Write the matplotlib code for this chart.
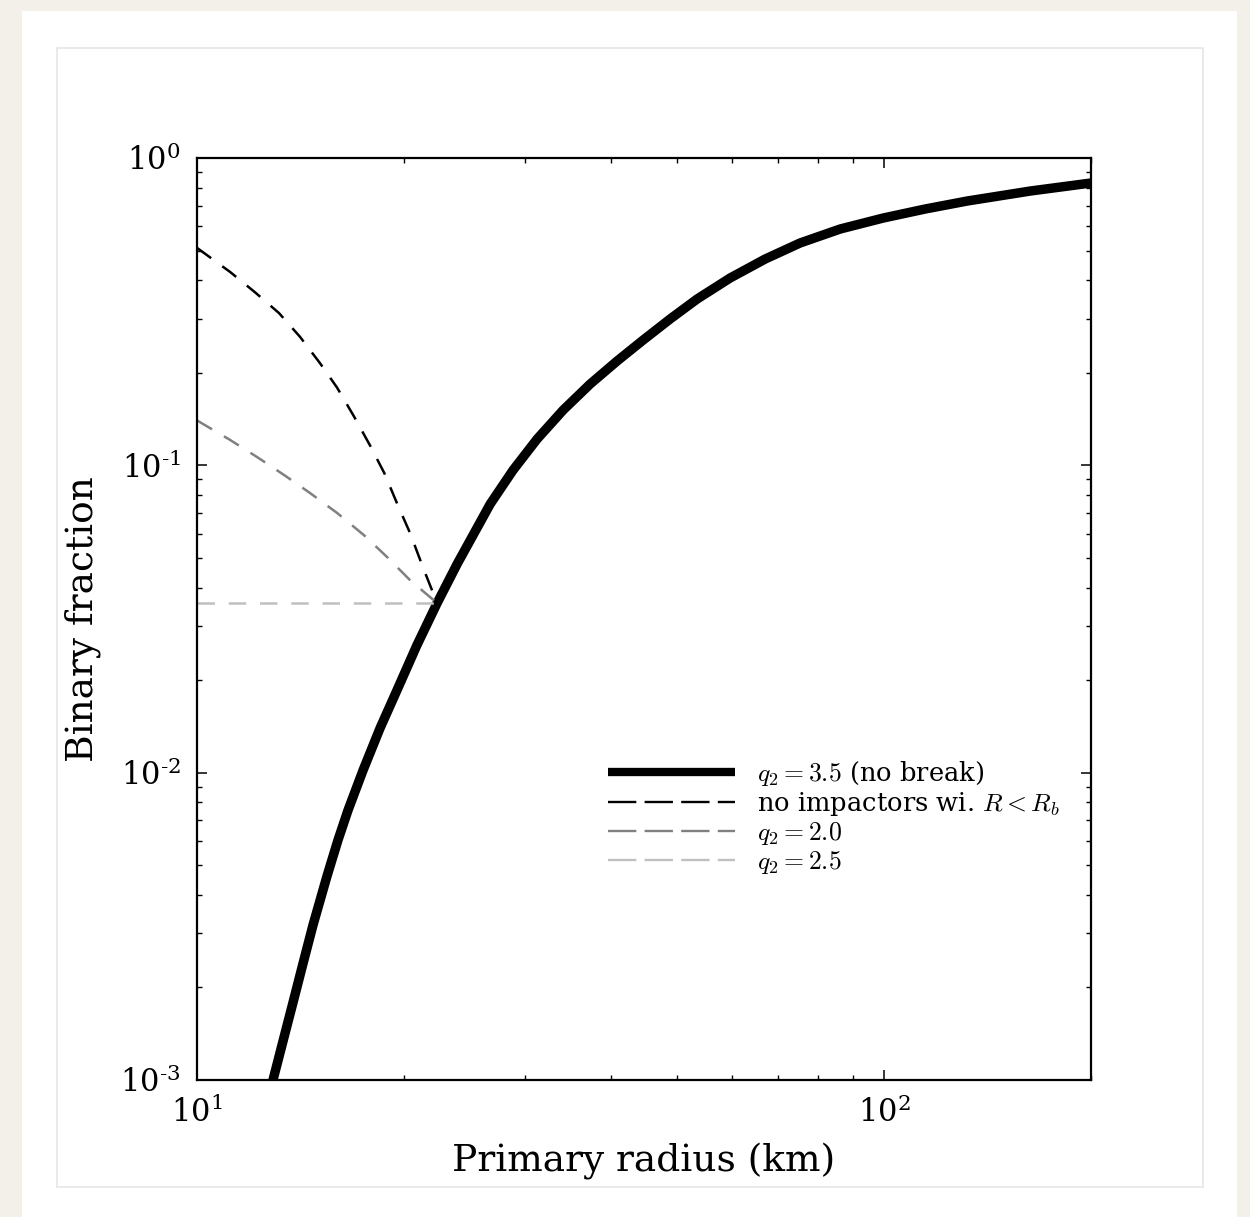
import numpy as np
import matplotlib
matplotlib.use("Agg")
from matplotlib import pyplot as plt
from matplotlib.patches import Rectangle
from matplotlib.lines import Line2D
from matplotlib.ticker import FuncFormatter

# thick curve: q2 = 3.5, no break
r_main = [12.90, 13.34, 13.80, 14.27, 14.75, 15.46, 16.04, 16.59, 17.45, 18.47, 19.55,
          20.90, 22.36, 23.91, 26.71, 28.84, 31.26, 34.11, 37.34, 40.87, 44.60, 48.81,
          53.43, 59.69, 67.12, 75.45, 86.30, 99.66, 114.7, 132.1, 163.2, 200.0]
f_main = [0.001, 0.001338, 0.001793, 0.002401, 0.003191, 0.004609, 0.006036, 0.007554, 0.01020, 0.01397, 0.01857,
          0.02602, 0.03563, 0.04774, 0.07481, 0.09650, 0.1218, 0.1513, 0.1839, 0.2185, 0.2557, 0.2993,
          0.3476, 0.4070, 0.4691, 0.5290, 0.5874, 0.6377, 0.6823, 0.7245, 0.7808, 0.8292]

# no impactors below R_b
r_noimp = [10.0, 11.17, 12.14, 13.16, 14.12, 15.10, 15.99, 16.93, 17.86, 18.73, 19.54, 20.42, 21.4, 22.36]
f_noimp = [0.51, 0.426, 0.366, 0.313, 0.262, 0.215, 0.179, 0.144, 0.116, 0.0944, 0.0754, 0.0602, 0.0456, 0.03563]

# q2 = 2.0
r_q20 = [10.0, 11.17, 12.23, 13.39, 14.60, 15.99, 17.49, 18.91, 20.42, 22.36]
f_q20 = [0.140, 0.121, 0.1064, 0.0930, 0.0813, 0.0700, 0.0593, 0.0503, 0.0423, 0.03563]

# q2 = 2.5
r_q25 = [10.0, 22.36]
f_q25 = [0.03563, 0.03563]

labels = [r'$q_2=3.5$ (no break)', r'no impactors wi. $R<R_b$', r'$q_2=2.0$', r'$q_2=2.5$']

plt.rcParams['font.family'] = 'DejaVu Serif'
plt.rcParams['mathtext.fontset'] = 'cm'
plt.rcParams['axes.unicode_minus'] = False

fig = plt.figure(figsize=(12.5, 12.17), dpi=100)
fig.patch.set_facecolor('#f3f0ea')

# card background
fig.patches.append(Rectangle((22/1250, 0), (1237-22)/1250, 1-11/1217, transform=fig.transFigure,
                             facecolor='white', edgecolor='none', zorder=-10))
fig.patches.append(Rectangle((57/1250, 1-1187/1217), (1203-57)/1250, (1187-48)/1217,
                             transform=fig.transFigure, facecolor='white',
                             edgecolor='#e6e6e6', lw=1.2, zorder=-9))

ax = fig.add_axes([197/1250, 1-1080/1217, (1091-197)/1250, (1080-158)/1217])

dash = (0, (7, 5.5))
ax.plot(r_main, f_main, color='black', lw=6.8, solid_capstyle='butt')
ax.plot(r_noimp, f_noimp, color='black', lw=1.8, ls=dash)
ax.plot(r_q20, f_q20, color='#808080', lw=1.8, ls=dash)
ax.plot(r_q25, f_q25, color='#c0c0c0', lw=1.8, ls=dash)

ax.set_xscale('log')
ax.set_yscale('log')
ax.set_xlim(10, 200)
ax.set_ylim(1e-3, 1)


def pow10(v, pos):
    e = int(round(np.log10(v)))
    s = str(e).replace('-', '\u2010')
    return r'$\mathdefault{10^{' + s + '}}$'


ax.xaxis.set_major_formatter(FuncFormatter(pow10))
ax.yaxis.set_major_formatter(FuncFormatter(pow10))

for s in ax.spines.values():
    s.set_linewidth(1.6)
ax.tick_params(which='both', direction='in', top=True, right=True, labelsize=22, pad=12)
ax.tick_params(which='major', length=7, width=1.1)
ax.tick_params(which='minor', length=3.5, width=1.0)

ax.set_xlabel('Primary radius (km)', fontsize=27, labelpad=10)
ax.set_ylabel('Binary fraction', fontsize=27, labelpad=14)

# legend handles drawn with longer dashes, as in the original
ldash = (0, (12, 3.5))
handles = [Line2D([], [], color='black', lw=6, solid_capstyle='butt'),
           Line2D([], [], color='black', lw=1.7, ls=ldash),
           Line2D([], [], color='#808080', lw=1.7, ls=ldash),
           Line2D([], [], color='#c0c0c0', lw=1.7, ls=ldash)]
ax.legend(handles, labels, loc='upper left', bbox_to_anchor=(0.434, 0.373), frameon=False,
          fontsize=18.5, handlelength=4.95, handletextpad=0.85, labelspacing=0.07)

fig.savefig('out.png', dpi=100, facecolor=fig.get_facecolor())
